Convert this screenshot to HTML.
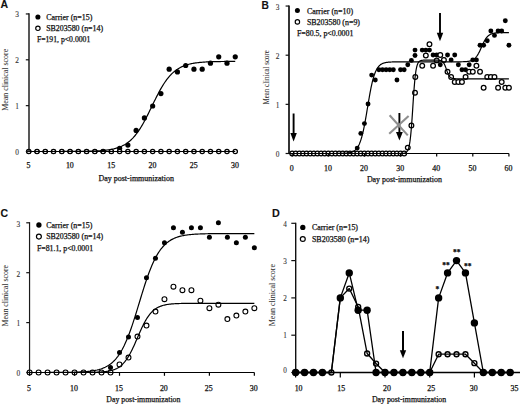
<!DOCTYPE html>
<html><head><meta charset="utf-8"><style>
html,body{margin:0;padding:0;background:#fff;}
svg{display:block;}
text{font-family:'Liberation Serif', serif;fill:#111;stroke:#111;stroke-width:0.25px;}
</style></head><body>
<svg width="520" height="404" viewBox="0 0 520 404">
<rect width="520" height="404" fill="#fff"/>
<text x="0.4" y="8.1" style="font-family:'Liberation Sans',sans-serif;font-weight:bold;stroke-width:0.1px" font-size="10.5">A</text>
<text x="17.10" y="154.80" font-size="7.4" text-anchor="middle" style="fill:#333;stroke:#333;stroke-width:0.1px">0</text>
<text x="17.10" y="108.95" font-size="7.4" text-anchor="middle" style="fill:#333;stroke:#333;stroke-width:0.1px">1</text>
<text x="17.10" y="63.10" font-size="7.4" text-anchor="middle" style="fill:#333;stroke:#333;stroke-width:0.1px">2</text>
<text x="17.10" y="17.25" font-size="7.4" text-anchor="middle" style="fill:#333;stroke:#333;stroke-width:0.1px">3</text>
<text x="28.55" y="168.20" font-size="7.9" text-anchor="middle">5</text>
<text x="69.85" y="168.20" font-size="7.9" text-anchor="middle">10</text>
<text x="111.15" y="168.20" font-size="7.9" text-anchor="middle">15</text>
<text x="152.45" y="168.20" font-size="7.9" text-anchor="middle">20</text>
<text x="193.75" y="168.20" font-size="7.9" text-anchor="middle">25</text>
<text x="235.05" y="168.20" font-size="7.9" text-anchor="middle">30</text>
<text x="98.60" y="181.40" font-size="7.9" text-anchor="start" textLength="75.3" lengthAdjust="spacingAndGlyphs">Day post-immunization</text>
<text transform="translate(8.30,79.80) rotate(-90)" x="0" y="0" font-size="7.9" text-anchor="middle" textLength="62" lengthAdjust="spacingAndGlyphs" style="fill:#333;stroke:#333;stroke-width:0.05px">Mean clinical score</text>
<circle cx="37.90" cy="17.00" r="2.55" fill="#000"/>
<text x="46.20" y="19.50" font-size="7.9" text-anchor="start" textLength="46.1" lengthAdjust="spacingAndGlyphs">Carrier (n=15)</text>
<circle cx="37.90" cy="28.30" r="2.2" fill="#fff" stroke="#000" stroke-width="1.15"/>
<text x="46.20" y="30.80" font-size="7.9" text-anchor="start" textLength="56.9" lengthAdjust="spacingAndGlyphs">SB203580 (n=14)</text>
<text x="36.90" y="42.30" font-size="7.9" text-anchor="start" textLength="53.4" lengthAdjust="spacingAndGlyphs">F=191, p&lt;0.0001</text>
<circle cx="28.75" cy="151.50" r="2.6" fill="#000"/>
<circle cx="37.01" cy="151.50" r="2.6" fill="#000"/>
<circle cx="45.27" cy="151.50" r="2.6" fill="#000"/>
<circle cx="53.53" cy="151.50" r="2.6" fill="#000"/>
<circle cx="61.79" cy="151.50" r="2.6" fill="#000"/>
<circle cx="70.05" cy="151.50" r="2.6" fill="#000"/>
<circle cx="78.31" cy="151.50" r="2.6" fill="#000"/>
<circle cx="86.57" cy="151.50" r="2.6" fill="#000"/>
<circle cx="94.83" cy="151.50" r="2.6" fill="#000"/>
<circle cx="103.09" cy="151.50" r="2.6" fill="#000"/>
<circle cx="111.35" cy="151.50" r="2.6" fill="#000"/>
<circle cx="119.61" cy="148.32" r="2.6" fill="#000"/>
<circle cx="127.87" cy="145.10" r="2.6" fill="#000"/>
<circle cx="136.13" cy="130.38" r="2.6" fill="#000"/>
<circle cx="144.39" cy="117.96" r="2.6" fill="#000"/>
<circle cx="152.65" cy="106.00" r="2.6" fill="#000"/>
<circle cx="160.91" cy="93.58" r="2.6" fill="#000"/>
<circle cx="169.17" cy="69.20" r="2.6" fill="#000"/>
<circle cx="177.43" cy="71.96" r="2.6" fill="#000"/>
<circle cx="185.69" cy="65.52" r="2.6" fill="#000"/>
<circle cx="193.95" cy="69.20" r="2.6" fill="#000"/>
<circle cx="202.21" cy="69.20" r="2.6" fill="#000"/>
<circle cx="210.47" cy="63.22" r="2.6" fill="#000"/>
<circle cx="218.73" cy="56.78" r="2.6" fill="#000"/>
<circle cx="226.99" cy="63.22" r="2.6" fill="#000"/>
<circle cx="235.25" cy="56.78" r="2.6" fill="#000"/>
<circle cx="28.75" cy="151.50" r="2.15" fill="#fff" stroke="#000" stroke-width="1.3"/>
<circle cx="37.01" cy="151.50" r="2.15" fill="#fff" stroke="#000" stroke-width="1.3"/>
<circle cx="45.27" cy="151.50" r="2.15" fill="#fff" stroke="#000" stroke-width="1.3"/>
<circle cx="53.53" cy="151.50" r="2.15" fill="#fff" stroke="#000" stroke-width="1.3"/>
<circle cx="61.79" cy="151.50" r="2.15" fill="#fff" stroke="#000" stroke-width="1.3"/>
<circle cx="70.05" cy="151.50" r="2.15" fill="#fff" stroke="#000" stroke-width="1.3"/>
<circle cx="78.31" cy="151.50" r="2.15" fill="#fff" stroke="#000" stroke-width="1.3"/>
<circle cx="86.57" cy="151.50" r="2.15" fill="#fff" stroke="#000" stroke-width="1.3"/>
<circle cx="94.83" cy="151.50" r="2.15" fill="#fff" stroke="#000" stroke-width="1.3"/>
<circle cx="103.09" cy="151.50" r="2.15" fill="#fff" stroke="#000" stroke-width="1.3"/>
<circle cx="111.35" cy="151.50" r="2.15" fill="#fff" stroke="#000" stroke-width="1.3"/>
<circle cx="119.61" cy="151.50" r="2.15" fill="#fff" stroke="#000" stroke-width="1.3"/>
<circle cx="127.87" cy="151.50" r="2.15" fill="#fff" stroke="#000" stroke-width="1.3"/>
<circle cx="136.13" cy="151.50" r="2.15" fill="#fff" stroke="#000" stroke-width="1.3"/>
<circle cx="144.39" cy="151.50" r="2.15" fill="#fff" stroke="#000" stroke-width="1.3"/>
<circle cx="152.65" cy="151.50" r="2.15" fill="#fff" stroke="#000" stroke-width="1.3"/>
<circle cx="160.91" cy="151.50" r="2.15" fill="#fff" stroke="#000" stroke-width="1.3"/>
<circle cx="169.17" cy="151.50" r="2.15" fill="#fff" stroke="#000" stroke-width="1.3"/>
<circle cx="177.43" cy="151.50" r="2.15" fill="#fff" stroke="#000" stroke-width="1.3"/>
<circle cx="185.69" cy="151.50" r="2.15" fill="#fff" stroke="#000" stroke-width="1.3"/>
<circle cx="193.95" cy="151.50" r="2.15" fill="#fff" stroke="#000" stroke-width="1.3"/>
<circle cx="202.21" cy="151.50" r="2.15" fill="#fff" stroke="#000" stroke-width="1.3"/>
<circle cx="210.47" cy="151.50" r="2.15" fill="#fff" stroke="#000" stroke-width="1.3"/>
<circle cx="218.73" cy="151.50" r="2.15" fill="#fff" stroke="#000" stroke-width="1.3"/>
<circle cx="226.99" cy="151.50" r="2.15" fill="#fff" stroke="#000" stroke-width="1.3"/>
<circle cx="235.25" cy="151.50" r="2.15" fill="#fff" stroke="#000" stroke-width="1.3"/>
<polyline points="28.75,151.50 29.58,151.50 30.40,151.50 31.23,151.50 32.05,151.50 32.88,151.50 33.71,151.50 34.53,151.50 35.36,151.50 36.18,151.50 37.01,151.50 37.84,151.50 38.66,151.50 39.49,151.50 40.31,151.50 41.14,151.50 41.97,151.50 42.79,151.50 43.62,151.50 44.44,151.50 45.27,151.49 46.10,151.49 46.92,151.49 47.75,151.49 48.57,151.49 49.40,151.49 50.23,151.49 51.05,151.49 51.88,151.49 52.70,151.49 53.53,151.49 54.36,151.49 55.18,151.49 56.01,151.49 56.83,151.49 57.66,151.48 58.49,151.48 59.31,151.48 60.14,151.48 60.96,151.48 61.79,151.48 62.62,151.47 63.44,151.47 64.27,151.47 65.09,151.47 65.92,151.47 66.75,151.46 67.57,151.46 68.40,151.46 69.22,151.45 70.05,151.45 70.88,151.45 71.70,151.44 72.53,151.44 73.35,151.43 74.18,151.43 75.01,151.42 75.83,151.42 76.66,151.41 77.48,151.40 78.31,151.39 79.14,151.39 79.96,151.38 80.79,151.37 81.61,151.36 82.44,151.34 83.27,151.33 84.09,151.32 84.92,151.31 85.74,151.29 86.57,151.27 87.40,151.26 88.22,151.24 89.05,151.22 89.87,151.19 90.70,151.17 91.53,151.14 92.35,151.12 93.18,151.09 94.00,151.05 94.83,151.02 95.66,150.98 96.48,150.94 97.31,150.90 98.13,150.85 98.96,150.80 99.79,150.74 100.61,150.69 101.44,150.62 102.26,150.55 103.09,150.48 103.92,150.40 104.74,150.31 105.57,150.22 106.39,150.12 107.22,150.02 108.05,149.90 108.87,149.78 109.70,149.65 110.52,149.50 111.35,149.35 112.18,149.19 113.00,149.01 113.83,148.82 114.65,148.61 115.48,148.40 116.31,148.16 117.13,147.91 117.96,147.64 118.78,147.35 119.61,147.04 120.44,146.70 121.26,146.35 122.09,145.97 122.91,145.56 123.74,145.13 124.57,144.66 125.39,144.17 126.22,143.64 127.04,143.08 127.87,142.48 128.70,141.85 129.52,141.18 130.35,140.46 131.17,139.71 132.00,138.91 132.83,138.07 133.65,137.18 134.48,136.24 135.30,135.26 136.13,134.23 136.96,133.14 137.78,132.01 138.61,130.83 139.43,129.60 140.26,128.32 141.09,126.99 141.91,125.61 142.74,124.19 143.56,122.73 144.39,121.23 145.22,119.68 146.04,118.11 146.87,116.50 147.69,114.86 148.52,113.21 149.35,111.53 150.17,109.84 151.00,108.14 151.82,106.43 152.65,104.72 153.48,103.02 154.30,101.33 155.13,99.65 155.95,97.99 156.78,96.36 157.61,94.75 158.43,93.17 159.26,91.63 160.08,90.13 160.91,88.67 161.74,87.25 162.56,85.87 163.39,84.54 164.21,83.26 165.04,82.03 165.87,80.85 166.69,79.72 167.52,78.63 168.34,77.60 169.17,76.62 170.00,75.68 170.82,74.79 171.65,73.95 172.47,73.15 173.30,72.39 174.13,71.68 174.95,71.01 175.78,70.38 176.60,69.78 177.43,69.22 178.26,68.69 179.08,68.20 179.91,67.73 180.73,67.30 181.56,66.89 182.39,66.51 183.21,66.16 184.04,65.82 184.86,65.51 185.69,65.22 186.52,64.95 187.34,64.70 188.17,64.46 188.99,64.24 189.82,64.04 190.65,63.85 191.47,63.67 192.30,63.51 193.12,63.35 193.95,63.21 194.78,63.08 195.60,62.96 196.43,62.84 197.25,62.74 198.08,62.64 198.91,62.54 199.73,62.46 200.56,62.38 201.38,62.31 202.21,62.24 203.04,62.17 203.86,62.11 204.69,62.06 205.51,62.01 206.34,61.96 207.17,61.92 207.99,61.88 208.82,61.84 209.64,61.81 210.47,61.77 211.30,61.74 212.12,61.71 212.95,61.69 213.77,61.66 214.60,61.64 215.43,61.62 216.25,61.60 217.08,61.59 217.90,61.57 218.73,61.55 219.56,61.54 220.38,61.53 221.21,61.51 222.03,61.50 222.86,61.49 223.69,61.48 224.51,61.47 225.34,61.47 226.16,61.46 226.99,61.45 227.82,61.44 228.64,61.44 229.47,61.43 230.29,61.43 231.12,61.42 231.95,61.42 232.77,61.41 233.60,61.41 234.42,61.41 235.25,61.40" fill="none" stroke="#000" stroke-width="1.2" stroke-linejoin="round"/>
<line x1="28.75" y1="151.50" x2="235.25" y2="151.50" stroke="#000" stroke-width="1.05"/>
<line x1="29.00" y1="13.30" x2="29.00" y2="152.10" stroke="#111" stroke-width="1.4"/>
<line x1="25.80" y1="151.50" x2="29.00" y2="151.50" stroke="#111" stroke-width="1.2"/>
<line x1="25.80" y1="105.65" x2="29.00" y2="105.65" stroke="#111" stroke-width="1.2"/>
<line x1="25.80" y1="59.80" x2="29.00" y2="59.80" stroke="#111" stroke-width="1.2"/>
<line x1="25.80" y1="13.95" x2="29.00" y2="13.95" stroke="#111" stroke-width="1.2"/>
<text x="261.5" y="8.65" style="font-family:'Liberation Sans',sans-serif;font-weight:bold;stroke-width:0.1px" font-size="10.2">B</text>
<text x="277.60" y="156.90" font-size="7.4" text-anchor="middle" style="fill:#333;stroke:#333;stroke-width:0.1px">0</text>
<text x="277.60" y="107.75" font-size="7.4" text-anchor="middle" style="fill:#333;stroke:#333;stroke-width:0.1px">1</text>
<text x="277.60" y="58.60" font-size="7.4" text-anchor="middle" style="fill:#333;stroke:#333;stroke-width:0.1px">2</text>
<text x="277.60" y="10.05" font-size="7.4" text-anchor="middle" style="fill:#333;stroke:#333;stroke-width:0.1px">3</text>
<text x="291.80" y="170.50" font-size="7.9" text-anchor="middle">0</text>
<text x="327.92" y="170.50" font-size="7.9" text-anchor="middle">10</text>
<text x="364.04" y="170.50" font-size="7.9" text-anchor="middle">20</text>
<text x="400.16" y="170.50" font-size="7.9" text-anchor="middle">30</text>
<text x="436.28" y="170.50" font-size="7.9" text-anchor="middle">40</text>
<text x="472.40" y="170.50" font-size="7.9" text-anchor="middle">50</text>
<text x="508.52" y="170.50" font-size="7.9" text-anchor="middle">60</text>
<text x="366.90" y="181.50" font-size="7.9" text-anchor="start" textLength="75.0" lengthAdjust="spacingAndGlyphs">Day post-immunization</text>
<text transform="translate(268.60,77.30) rotate(-90)" x="0" y="0" font-size="7.9" text-anchor="middle" textLength="54.5" lengthAdjust="spacingAndGlyphs" style="fill:#333;stroke:#333;stroke-width:0.05px">Mean clinical score</text>
<circle cx="297.40" cy="10.40" r="2.5" fill="#000"/>
<text x="306.90" y="13.50" font-size="7.9" text-anchor="start" textLength="46.2" lengthAdjust="spacingAndGlyphs">Carrier (n=10)</text>
<circle cx="297.40" cy="21.90" r="2.2" fill="#fff" stroke="#000" stroke-width="1.15"/>
<text x="306.90" y="24.80" font-size="7.9" text-anchor="start" textLength="53.1" lengthAdjust="spacingAndGlyphs">SB203580 (n=9)</text>
<text x="296.90" y="36.20" font-size="7.9" text-anchor="start" textLength="56.5" lengthAdjust="spacingAndGlyphs">F=80.5, p&lt;0.0001</text>
<circle cx="292.20" cy="153.50" r="2.45" fill="#000"/>
<circle cx="295.81" cy="153.50" r="2.45" fill="#000"/>
<circle cx="299.42" cy="153.50" r="2.45" fill="#000"/>
<circle cx="303.04" cy="153.50" r="2.45" fill="#000"/>
<circle cx="306.65" cy="153.50" r="2.45" fill="#000"/>
<circle cx="310.26" cy="153.50" r="2.45" fill="#000"/>
<circle cx="313.87" cy="153.50" r="2.45" fill="#000"/>
<circle cx="317.48" cy="153.50" r="2.45" fill="#000"/>
<circle cx="321.10" cy="153.50" r="2.45" fill="#000"/>
<circle cx="324.71" cy="153.50" r="2.45" fill="#000"/>
<circle cx="328.32" cy="153.50" r="2.45" fill="#000"/>
<circle cx="331.93" cy="153.50" r="2.45" fill="#000"/>
<circle cx="335.54" cy="153.50" r="2.45" fill="#000"/>
<circle cx="339.16" cy="153.50" r="2.45" fill="#000"/>
<circle cx="342.77" cy="153.50" r="2.45" fill="#000"/>
<circle cx="346.38" cy="153.50" r="2.45" fill="#000"/>
<circle cx="349.99" cy="153.50" r="2.45" fill="#000"/>
<circle cx="353.60" cy="153.50" r="2.45" fill="#000"/>
<circle cx="357.22" cy="148.10" r="2.45" fill="#000"/>
<circle cx="360.83" cy="133.40" r="2.45" fill="#000"/>
<circle cx="364.44" cy="123.60" r="2.45" fill="#000"/>
<circle cx="368.05" cy="104.00" r="2.45" fill="#000"/>
<circle cx="371.66" cy="75.09" r="2.45" fill="#000"/>
<circle cx="375.28" cy="79.99" r="2.45" fill="#000"/>
<circle cx="378.89" cy="69.70" r="2.45" fill="#000"/>
<circle cx="382.50" cy="69.70" r="2.45" fill="#000"/>
<circle cx="386.11" cy="69.70" r="2.45" fill="#000"/>
<circle cx="389.72" cy="69.70" r="2.45" fill="#000"/>
<circle cx="393.34" cy="69.70" r="2.45" fill="#000"/>
<circle cx="396.95" cy="79.99" r="2.45" fill="#000"/>
<circle cx="400.56" cy="69.70" r="2.45" fill="#000"/>
<circle cx="404.17" cy="69.70" r="2.45" fill="#000"/>
<circle cx="407.78" cy="64.80" r="2.45" fill="#000"/>
<circle cx="411.40" cy="60.39" r="2.45" fill="#000"/>
<circle cx="415.01" cy="50.10" r="2.45" fill="#000"/>
<circle cx="415.01" cy="55.49" r="2.45" fill="#000"/>
<circle cx="422.23" cy="50.10" r="2.45" fill="#000"/>
<circle cx="425.84" cy="50.10" r="2.45" fill="#000"/>
<circle cx="429.46" cy="50.10" r="2.45" fill="#000"/>
<circle cx="433.07" cy="55.00" r="2.45" fill="#000"/>
<circle cx="436.68" cy="55.00" r="2.45" fill="#000"/>
<circle cx="440.29" cy="64.80" r="2.45" fill="#000"/>
<circle cx="443.90" cy="59.90" r="2.45" fill="#000"/>
<circle cx="447.52" cy="55.00" r="2.45" fill="#000"/>
<circle cx="451.13" cy="59.90" r="2.45" fill="#000"/>
<circle cx="454.74" cy="55.00" r="2.45" fill="#000"/>
<circle cx="458.35" cy="64.80" r="2.45" fill="#000"/>
<circle cx="461.96" cy="69.70" r="2.45" fill="#000"/>
<circle cx="465.58" cy="69.70" r="2.45" fill="#000"/>
<circle cx="469.19" cy="64.80" r="2.45" fill="#000"/>
<circle cx="472.80" cy="59.90" r="2.45" fill="#000"/>
<circle cx="476.41" cy="59.90" r="2.45" fill="#000"/>
<circle cx="480.02" cy="45.20" r="2.45" fill="#000"/>
<circle cx="483.64" cy="45.20" r="2.45" fill="#000"/>
<circle cx="487.25" cy="40.79" r="2.45" fill="#000"/>
<circle cx="490.86" cy="30.99" r="2.45" fill="#000"/>
<circle cx="494.47" cy="35.40" r="2.45" fill="#000"/>
<circle cx="498.08" cy="30.99" r="2.45" fill="#000"/>
<circle cx="501.70" cy="30.99" r="2.45" fill="#000"/>
<circle cx="505.31" cy="20.70" r="2.45" fill="#000"/>
<circle cx="508.92" cy="45.20" r="2.45" fill="#000"/>
<circle cx="292.20" cy="153.50" r="2.35" fill="#fff" stroke="#000" stroke-width="1.25"/>
<circle cx="295.81" cy="153.50" r="2.35" fill="#fff" stroke="#000" stroke-width="1.25"/>
<circle cx="299.42" cy="153.50" r="2.35" fill="#fff" stroke="#000" stroke-width="1.25"/>
<circle cx="303.04" cy="153.50" r="2.35" fill="#fff" stroke="#000" stroke-width="1.25"/>
<circle cx="306.65" cy="153.50" r="2.35" fill="#fff" stroke="#000" stroke-width="1.25"/>
<circle cx="310.26" cy="153.50" r="2.35" fill="#fff" stroke="#000" stroke-width="1.25"/>
<circle cx="313.87" cy="153.50" r="2.35" fill="#fff" stroke="#000" stroke-width="1.25"/>
<circle cx="317.48" cy="153.50" r="2.35" fill="#fff" stroke="#000" stroke-width="1.25"/>
<circle cx="321.10" cy="153.50" r="2.35" fill="#fff" stroke="#000" stroke-width="1.25"/>
<circle cx="324.71" cy="153.50" r="2.35" fill="#fff" stroke="#000" stroke-width="1.25"/>
<circle cx="328.32" cy="153.50" r="2.35" fill="#fff" stroke="#000" stroke-width="1.25"/>
<circle cx="331.93" cy="153.50" r="2.35" fill="#fff" stroke="#000" stroke-width="1.25"/>
<circle cx="335.54" cy="153.50" r="2.35" fill="#fff" stroke="#000" stroke-width="1.25"/>
<circle cx="339.16" cy="153.50" r="2.35" fill="#fff" stroke="#000" stroke-width="1.25"/>
<circle cx="342.77" cy="153.50" r="2.35" fill="#fff" stroke="#000" stroke-width="1.25"/>
<circle cx="346.38" cy="153.50" r="2.35" fill="#fff" stroke="#000" stroke-width="1.25"/>
<circle cx="349.99" cy="153.50" r="2.35" fill="#fff" stroke="#000" stroke-width="1.25"/>
<circle cx="353.60" cy="153.50" r="2.35" fill="#fff" stroke="#000" stroke-width="1.25"/>
<circle cx="357.22" cy="153.50" r="2.35" fill="#fff" stroke="#000" stroke-width="1.25"/>
<circle cx="360.83" cy="153.50" r="2.35" fill="#fff" stroke="#000" stroke-width="1.25"/>
<circle cx="364.44" cy="153.50" r="2.35" fill="#fff" stroke="#000" stroke-width="1.25"/>
<circle cx="368.05" cy="153.50" r="2.35" fill="#fff" stroke="#000" stroke-width="1.25"/>
<circle cx="371.66" cy="153.50" r="2.35" fill="#fff" stroke="#000" stroke-width="1.25"/>
<circle cx="375.28" cy="153.50" r="2.35" fill="#fff" stroke="#000" stroke-width="1.25"/>
<circle cx="378.89" cy="153.50" r="2.35" fill="#fff" stroke="#000" stroke-width="1.25"/>
<circle cx="382.50" cy="153.50" r="2.35" fill="#fff" stroke="#000" stroke-width="1.25"/>
<circle cx="386.11" cy="153.50" r="2.35" fill="#fff" stroke="#000" stroke-width="1.25"/>
<circle cx="389.72" cy="153.50" r="2.35" fill="#fff" stroke="#000" stroke-width="1.25"/>
<circle cx="393.34" cy="153.50" r="2.35" fill="#fff" stroke="#000" stroke-width="1.25"/>
<circle cx="396.95" cy="153.50" r="2.35" fill="#fff" stroke="#000" stroke-width="1.25"/>
<circle cx="400.56" cy="153.50" r="2.35" fill="#fff" stroke="#000" stroke-width="1.25"/>
<circle cx="404.17" cy="153.50" r="2.35" fill="#fff" stroke="#000" stroke-width="1.25"/>
<circle cx="407.78" cy="147.61" r="2.35" fill="#fff" stroke="#000" stroke-width="1.25"/>
<circle cx="411.40" cy="125.56" r="2.35" fill="#fff" stroke="#000" stroke-width="1.25"/>
<circle cx="415.01" cy="92.73" r="2.35" fill="#fff" stroke="#000" stroke-width="1.25"/>
<circle cx="415.31" cy="77.05" r="2.35" fill="#fff" stroke="#000" stroke-width="1.25"/>
<circle cx="422.23" cy="65.78" r="2.35" fill="#fff" stroke="#000" stroke-width="1.25"/>
<circle cx="425.84" cy="55.49" r="2.35" fill="#fff" stroke="#000" stroke-width="1.25"/>
<circle cx="429.46" cy="44.22" r="2.35" fill="#fff" stroke="#000" stroke-width="1.25"/>
<circle cx="433.07" cy="65.78" r="2.35" fill="#fff" stroke="#000" stroke-width="1.25"/>
<circle cx="436.68" cy="60.39" r="2.35" fill="#fff" stroke="#000" stroke-width="1.25"/>
<circle cx="440.29" cy="55.00" r="2.35" fill="#fff" stroke="#000" stroke-width="1.25"/>
<circle cx="443.90" cy="59.90" r="2.35" fill="#fff" stroke="#000" stroke-width="1.25"/>
<circle cx="447.52" cy="71.66" r="2.35" fill="#fff" stroke="#000" stroke-width="1.25"/>
<circle cx="451.13" cy="77.05" r="2.35" fill="#fff" stroke="#000" stroke-width="1.25"/>
<circle cx="454.74" cy="81.95" r="2.35" fill="#fff" stroke="#000" stroke-width="1.25"/>
<circle cx="458.35" cy="81.95" r="2.35" fill="#fff" stroke="#000" stroke-width="1.25"/>
<circle cx="461.96" cy="81.95" r="2.35" fill="#fff" stroke="#000" stroke-width="1.25"/>
<circle cx="465.58" cy="77.05" r="2.35" fill="#fff" stroke="#000" stroke-width="1.25"/>
<circle cx="469.19" cy="71.66" r="2.35" fill="#fff" stroke="#000" stroke-width="1.25"/>
<circle cx="472.80" cy="71.66" r="2.35" fill="#fff" stroke="#000" stroke-width="1.25"/>
<circle cx="476.41" cy="65.78" r="2.35" fill="#fff" stroke="#000" stroke-width="1.25"/>
<circle cx="480.02" cy="71.66" r="2.35" fill="#fff" stroke="#000" stroke-width="1.25"/>
<circle cx="483.64" cy="87.83" r="2.35" fill="#fff" stroke="#000" stroke-width="1.25"/>
<circle cx="487.25" cy="77.05" r="2.35" fill="#fff" stroke="#000" stroke-width="1.25"/>
<circle cx="490.86" cy="77.05" r="2.35" fill="#fff" stroke="#000" stroke-width="1.25"/>
<circle cx="494.47" cy="77.05" r="2.35" fill="#fff" stroke="#000" stroke-width="1.25"/>
<circle cx="498.08" cy="87.83" r="2.35" fill="#fff" stroke="#000" stroke-width="1.25"/>
<circle cx="501.70" cy="81.95" r="2.35" fill="#fff" stroke="#000" stroke-width="1.25"/>
<circle cx="505.31" cy="87.83" r="2.35" fill="#fff" stroke="#000" stroke-width="1.25"/>
<circle cx="508.92" cy="87.83" r="2.35" fill="#fff" stroke="#000" stroke-width="1.25"/>
<polyline points="292.20,153.50 292.56,153.50 292.92,153.50 293.28,153.50 293.64,153.50 294.01,153.50 294.37,153.50 294.73,153.50 295.09,153.50 295.45,153.50 295.81,153.50 296.17,153.50 296.53,153.50 296.90,153.50 297.26,153.50 297.62,153.50 297.98,153.50 298.34,153.50 298.70,153.50 299.06,153.50 299.42,153.50 299.79,153.50 300.15,153.50 300.51,153.50 300.87,153.50 301.23,153.50 301.59,153.50 301.95,153.50 302.31,153.50 302.67,153.50 303.04,153.50 303.40,153.50 303.76,153.50 304.12,153.50 304.48,153.50 304.84,153.50 305.20,153.50 305.56,153.50 305.93,153.50 306.29,153.50 306.65,153.50 307.01,153.50 307.37,153.50 307.73,153.50 308.09,153.50 308.45,153.50 308.82,153.50 309.18,153.50 309.54,153.50 309.90,153.50 310.26,153.50 310.62,153.50 310.98,153.50 311.34,153.50 311.70,153.50 312.07,153.50 312.43,153.50 312.79,153.50 313.15,153.50 313.51,153.50 313.87,153.50 314.23,153.50 314.59,153.50 314.96,153.50 315.32,153.50 315.68,153.50 316.04,153.50 316.40,153.50 316.76,153.50 317.12,153.50 317.48,153.50 317.85,153.50 318.21,153.50 318.57,153.50 318.93,153.50 319.29,153.50 319.65,153.50 320.01,153.50 320.37,153.50 320.73,153.50 321.10,153.50 321.46,153.50 321.82,153.50 322.18,153.50 322.54,153.50 322.90,153.50 323.26,153.50 323.62,153.50 323.99,153.50 324.35,153.50 324.71,153.50 325.07,153.50 325.43,153.50 325.79,153.50 326.15,153.50 326.51,153.50 326.88,153.50 327.24,153.50 327.60,153.50 327.96,153.50 328.32,153.50 328.68,153.50 329.04,153.50 329.40,153.50 329.76,153.50 330.13,153.50 330.49,153.49 330.85,153.49 331.21,153.49 331.57,153.49 331.93,153.49 332.29,153.49 332.65,153.49 333.02,153.49 333.38,153.49 333.74,153.49 334.10,153.49 334.46,153.48 334.82,153.48 335.18,153.48 335.54,153.48 335.91,153.48 336.27,153.48 336.63,153.47 336.99,153.47 337.35,153.47 337.71,153.46 338.07,153.46 338.43,153.46 338.79,153.45 339.16,153.45 339.52,153.44 339.88,153.44 340.24,153.43 340.60,153.42 340.96,153.42 341.32,153.41 341.68,153.40 342.05,153.39 342.41,153.38 342.77,153.37 343.13,153.35 343.49,153.34 343.85,153.32 344.21,153.30 344.57,153.28 344.94,153.26 345.30,153.24 345.66,153.21 346.02,153.18 346.38,153.15 346.74,153.12 347.10,153.08 347.46,153.04 347.82,152.99 348.19,152.94 348.55,152.89 348.91,152.83 349.27,152.76 349.63,152.69 349.99,152.60 350.35,152.52 350.71,152.42 351.08,152.31 351.44,152.20 351.80,152.07 352.16,151.93 352.52,151.77 352.88,151.60 353.24,151.42 353.60,151.22 353.97,150.99 354.33,150.75 354.69,150.48 355.05,150.19 355.41,149.88 355.77,149.53 356.13,149.15 356.49,148.74 356.85,148.29 357.22,147.80 357.58,147.27 357.94,146.70 358.30,146.07 358.66,145.40 359.02,144.67 359.38,143.88 359.74,143.02 360.11,142.11 360.47,141.12 360.83,140.07 361.19,138.94 361.55,137.73 361.91,136.45 362.27,135.09 362.63,133.65 363.00,132.13 363.36,130.53 363.72,128.85 364.08,127.09 364.44,125.27 364.80,123.37 365.16,121.42 365.52,119.40 365.88,117.34 366.25,115.24 366.61,113.10 366.97,110.94 367.33,108.76 367.69,106.58 368.05,104.40 368.41,102.24 368.77,100.10 369.14,97.99 369.50,95.93 369.86,93.92 370.22,91.96 370.58,90.07 370.94,88.24 371.30,86.49 371.66,84.81 372.03,83.21 372.39,81.69 372.75,80.25 373.11,78.89 373.47,77.60 373.83,76.40 374.19,75.27 374.55,74.21 374.91,73.23 375.28,72.31 375.64,71.46 376.00,70.67 376.36,69.94 376.72,69.26 377.08,68.64 377.44,68.06 377.80,67.53 378.17,67.04 378.53,66.59 378.89,66.18 379.25,65.80 379.61,65.46 379.97,65.14 380.33,64.85 380.69,64.58 381.06,64.34 381.42,64.12 381.78,63.92 382.14,63.73 382.50,63.56 382.86,63.41 383.22,63.27 383.58,63.14 383.94,63.02 384.31,62.92 384.67,62.82 385.03,62.73 385.39,62.65 385.75,62.58 386.11,62.51 386.47,62.45 386.83,62.39 387.20,62.34 387.56,62.30 387.92,62.26 388.28,62.22 388.64,62.18 389.00,62.15 389.36,62.12 389.72,62.10 390.09,62.07 390.45,62.05 390.81,62.03 391.17,62.01 391.53,62.00 391.89,61.98 392.25,61.97 392.61,61.96 392.97,61.95 393.34,61.94 393.70,61.93 394.06,61.92 394.42,61.91 394.78,61.90 395.14,61.90 395.50,61.89 395.86,61.89 396.23,61.88 396.59,61.88 396.95,61.87 397.31,61.87 397.67,61.87 398.03,61.86 398.39,61.86 398.75,61.86 399.12,61.86 399.48,61.86 399.84,61.85 400.20,61.85 400.56,61.85 400.92,61.85 401.28,61.85 401.64,61.85 402.00,61.85 402.37,61.84 402.73,61.84 403.09,61.84 403.45,61.84 403.81,61.84 404.17,61.84 404.53,61.84 404.89,61.84 405.26,61.84 405.62,61.84 405.98,61.84 406.34,61.84 406.70,61.84 407.06,61.84 407.42,61.84 407.78,61.84 408.15,61.84 408.51,61.84 408.87,61.84 409.23,61.84 409.59,61.84 409.95,61.84 410.31,61.84 410.67,61.84 411.03,61.84 411.40,61.84 411.76,61.84 412.12,61.84 412.48,61.84 412.84,61.84 413.20,61.84 413.56,61.84 413.92,61.84 414.29,61.84 414.65,61.84 415.01,61.84 415.37,61.84 415.73,61.84 416.09,61.84 416.45,61.84 416.81,61.84 417.18,61.84 417.54,61.84 417.90,61.84 418.26,61.84 418.62,61.84 418.98,61.84 419.34,61.84 419.70,61.84 420.06,61.84 420.43,61.84 420.79,61.84 421.15,61.84 421.51,61.84 421.87,61.84 422.23,61.84 422.59,61.84 422.95,61.84 423.32,61.84 423.68,61.84 424.04,61.84 424.40,61.84 424.76,61.84 425.12,61.84 425.48,61.84 425.84,61.84 426.21,61.84 426.57,61.84 426.93,61.84 427.29,61.84 427.65,61.84 428.01,61.84 428.37,61.84 428.73,61.84 429.09,61.84 429.46,61.84 429.82,61.84 430.18,61.84 430.54,61.84 430.90,61.84 431.26,61.84 431.62,61.84 431.98,61.84 432.35,61.84 432.71,61.84 433.07,61.84 433.43,61.84 433.79,61.84 434.15,61.84 434.51,61.84 434.87,61.84 435.24,61.84 435.60,61.84 435.96,61.84 436.32,61.84 436.68,61.84 437.04,61.84 437.40,61.84 437.76,61.84 438.12,61.84 438.49,61.84 438.85,61.84 439.21,61.84 439.57,61.84 439.93,61.84 440.29,61.84 440.65,61.84 441.01,61.84 441.38,61.84 441.74,61.84 442.10,61.84 442.46,61.84 442.82,61.84 443.18,61.84 443.54,61.83 443.90,61.83 444.27,61.83 444.63,61.83 444.99,61.83 445.35,61.83 445.71,61.83 446.07,61.83 446.43,61.83 446.79,61.83 447.15,61.83 447.52,61.83 447.88,61.83 448.24,61.83 448.60,61.83 448.96,61.83 449.32,61.83 449.68,61.83 450.04,61.83 450.41,61.83 450.77,61.83 451.13,61.83 451.49,61.83 451.85,61.83 452.21,61.83 452.57,61.83 452.93,61.83 453.30,61.83 453.66,61.83 454.02,61.83 454.38,61.83 454.74,61.83 455.10,61.83 455.46,61.83 455.82,61.82 456.18,61.82 456.55,61.82 456.91,61.82 457.27,61.82 457.63,61.82 457.99,61.81 458.35,61.81 458.71,61.81 459.07,61.81 459.44,61.80 459.80,61.80 460.16,61.79 460.52,61.79 460.88,61.78 461.24,61.78 461.60,61.77 461.96,61.76 462.33,61.75 462.69,61.75 463.05,61.73 463.41,61.72 463.77,61.71 464.13,61.69 464.49,61.68 464.85,61.66 465.21,61.64 465.58,61.62 465.94,61.59 466.30,61.56 466.66,61.53 467.02,61.50 467.38,61.46 467.74,61.41 468.10,61.36 468.47,61.31 468.83,61.25 469.19,61.18 469.55,61.11 469.91,61.02 470.27,60.93 470.63,60.83 470.99,60.71 471.36,60.59 471.72,60.45 472.08,60.29 472.44,60.12 472.80,59.94 473.16,59.73 473.52,59.50 473.88,59.25 474.24,58.98 474.61,58.68 474.97,58.35 475.33,57.99 475.69,57.61 476.05,57.19 476.41,56.74 476.77,56.25 477.13,55.73 477.50,55.18 477.86,54.59 478.22,53.97 478.58,53.32 478.94,52.63 479.30,51.91 479.66,51.17 480.02,50.41 480.39,49.63 480.75,48.83 481.11,48.02 481.47,47.21 481.83,46.40 482.19,45.60 482.55,44.80 482.91,44.02 483.27,43.25 483.64,42.51 484.00,41.80 484.36,41.11 484.72,40.46 485.08,39.83 485.44,39.25 485.80,38.69 486.16,38.17 486.53,37.69 486.89,37.24 487.25,36.82 487.61,36.43 487.97,36.08 488.33,35.75 488.69,35.45 489.05,35.18 489.42,34.93 489.78,34.70 490.14,34.49 490.50,34.30 490.86,34.13 491.22,33.98 491.58,33.84 491.94,33.71 492.30,33.60 492.67,33.50 493.03,33.40 493.39,33.32 493.75,33.24 494.11,33.18 494.47,33.12 494.83,33.06 495.19,33.01 495.56,32.97 495.92,32.93 496.28,32.90 496.64,32.86 497.00,32.84 497.36,32.81 497.72,32.79 498.08,32.77 498.45,32.75 498.81,32.73 499.17,32.72 499.53,32.70 499.89,32.69 500.25,32.68 500.61,32.67 500.97,32.66 501.33,32.66 501.70,32.65 502.06,32.64 502.42,32.64 502.78,32.63 503.14,32.63 503.50,32.62 503.86,32.62 504.22,32.62 504.59,32.61 504.95,32.61 505.31,32.61 505.67,32.61 506.03,32.61 506.39,32.60 506.75,32.60 507.11,32.60 507.48,32.60 507.84,32.60 508.20,32.60 508.56,32.60 508.92,32.60" fill="none" stroke="#000" stroke-width="1.2" stroke-linejoin="round"/>
<polyline points="292.20,153.50 292.56,153.50 292.92,153.50 293.28,153.50 293.64,153.50 294.01,153.50 294.37,153.50 294.73,153.50 295.09,153.50 295.45,153.50 295.81,153.50 296.17,153.50 296.53,153.50 296.90,153.50 297.26,153.50 297.62,153.50 297.98,153.50 298.34,153.50 298.70,153.50 299.06,153.50 299.42,153.50 299.79,153.50 300.15,153.50 300.51,153.50 300.87,153.50 301.23,153.50 301.59,153.50 301.95,153.50 302.31,153.50 302.67,153.50 303.04,153.50 303.40,153.50 303.76,153.50 304.12,153.50 304.48,153.50 304.84,153.50 305.20,153.50 305.56,153.50 305.93,153.50 306.29,153.50 306.65,153.50 307.01,153.50 307.37,153.50 307.73,153.50 308.09,153.50 308.45,153.50 308.82,153.50 309.18,153.50 309.54,153.50 309.90,153.50 310.26,153.50 310.62,153.50 310.98,153.50 311.34,153.50 311.70,153.50 312.07,153.50 312.43,153.50 312.79,153.50 313.15,153.50 313.51,153.50 313.87,153.50 314.23,153.50 314.59,153.50 314.96,153.50 315.32,153.50 315.68,153.50 316.04,153.50 316.40,153.50 316.76,153.50 317.12,153.50 317.48,153.50 317.85,153.50 318.21,153.50 318.57,153.50 318.93,153.50 319.29,153.50 319.65,153.50 320.01,153.50 320.37,153.50 320.73,153.50 321.10,153.50 321.46,153.50 321.82,153.50 322.18,153.50 322.54,153.50 322.90,153.50 323.26,153.50 323.62,153.50 323.99,153.50 324.35,153.50 324.71,153.50 325.07,153.50 325.43,153.50 325.79,153.50 326.15,153.50 326.51,153.50 326.88,153.50 327.24,153.50 327.60,153.50 327.96,153.50 328.32,153.50 328.68,153.50 329.04,153.50 329.40,153.50 329.76,153.50 330.13,153.50 330.49,153.50 330.85,153.50 331.21,153.50 331.57,153.50 331.93,153.50 332.29,153.50 332.65,153.50 333.02,153.50 333.38,153.50 333.74,153.50 334.10,153.50 334.46,153.50 334.82,153.50 335.18,153.50 335.54,153.50 335.91,153.50 336.27,153.50 336.63,153.50 336.99,153.50 337.35,153.50 337.71,153.50 338.07,153.50 338.43,153.50 338.79,153.50 339.16,153.50 339.52,153.50 339.88,153.50 340.24,153.50 340.60,153.50 340.96,153.50 341.32,153.50 341.68,153.50 342.05,153.50 342.41,153.50 342.77,153.50 343.13,153.50 343.49,153.50 343.85,153.50 344.21,153.50 344.57,153.50 344.94,153.50 345.30,153.50 345.66,153.50 346.02,153.50 346.38,153.50 346.74,153.50 347.10,153.50 347.46,153.50 347.82,153.50 348.19,153.50 348.55,153.50 348.91,153.50 349.27,153.50 349.63,153.50 349.99,153.50 350.35,153.50 350.71,153.50 351.08,153.50 351.44,153.50 351.80,153.50 352.16,153.50 352.52,153.50 352.88,153.50 353.24,153.50 353.60,153.50 353.97,153.50 354.33,153.50 354.69,153.50 355.05,153.50 355.41,153.50 355.77,153.50 356.13,153.50 356.49,153.50 356.85,153.50 357.22,153.50 357.58,153.50 357.94,153.50 358.30,153.50 358.66,153.50 359.02,153.50 359.38,153.50 359.74,153.50 360.11,153.50 360.47,153.50 360.83,153.50 361.19,153.50 361.55,153.50 361.91,153.50 362.27,153.50 362.63,153.50 363.00,153.50 363.36,153.50 363.72,153.50 364.08,153.50 364.44,153.50 364.80,153.50 365.16,153.50 365.52,153.50 365.88,153.50 366.25,153.50 366.61,153.50 366.97,153.50 367.33,153.50 367.69,153.50 368.05,153.50 368.41,153.50 368.77,153.50 369.14,153.50 369.50,153.50 369.86,153.50 370.22,153.50 370.58,153.50 370.94,153.50 371.30,153.50 371.66,153.50 372.03,153.50 372.39,153.50 372.75,153.50 373.11,153.50 373.47,153.50 373.83,153.50 374.19,153.50 374.55,153.50 374.91,153.50 375.28,153.50 375.64,153.50 376.00,153.50 376.36,153.50 376.72,153.50 377.08,153.50 377.44,153.50 377.80,153.50 378.17,153.50 378.53,153.50 378.89,153.50 379.25,153.50 379.61,153.50 379.97,153.50 380.33,153.50 380.69,153.50 381.06,153.50 381.42,153.50 381.78,153.50 382.14,153.50 382.50,153.50 382.86,153.50 383.22,153.50 383.58,153.50 383.94,153.50 384.31,153.50 384.67,153.50 385.03,153.50 385.39,153.50 385.75,153.50 386.11,153.50 386.47,153.50 386.83,153.50 387.20,153.50 387.56,153.50 387.92,153.50 388.28,153.50 388.64,153.50 389.00,153.50 389.36,153.50 389.72,153.50 390.09,153.50 390.45,153.50 390.81,153.50 391.17,153.50 391.53,153.50 391.89,153.50 392.25,153.50 392.61,153.50 392.97,153.50 393.34,153.50 393.70,153.50 394.06,153.50 394.42,153.50 394.78,153.50 395.14,153.50 395.50,153.50 395.86,153.50 396.23,153.50 396.59,153.50 396.95,153.50 397.31,153.50 397.67,153.50 398.03,153.49 398.39,153.49 398.75,153.49 399.12,153.49 399.48,153.49 399.84,153.48 400.20,153.48 400.56,153.47 400.92,153.46 401.28,153.45 401.64,153.44 402.00,153.43 402.37,153.41 402.73,153.38 403.09,153.35 403.45,153.31 403.81,153.26 404.17,153.19 404.53,153.11 404.89,153.01 405.26,152.87 405.62,152.71 405.98,152.50 406.34,152.23 406.70,151.90 407.06,151.48 407.42,150.95 407.78,150.28 408.15,149.46 408.51,148.43 408.87,147.16 409.23,145.60 409.59,143.69 409.95,141.40 410.31,138.66 410.67,135.45 411.03,131.73 411.40,127.50 411.76,122.81 412.12,117.72 412.48,112.34 412.84,106.81 413.20,101.27 413.56,95.90 413.92,90.81 414.29,86.11 414.65,81.89 415.01,78.17 415.37,74.95 415.73,72.21 416.09,69.92 416.45,68.02 416.81,66.46 417.18,65.19 417.54,64.16 417.90,63.33 418.26,62.67 418.62,62.14 418.98,61.72 419.34,61.38 419.70,61.12 420.06,60.91 420.43,60.74 420.79,60.61 421.15,60.50 421.51,60.42 421.87,60.36 422.23,60.31 422.59,60.27 422.95,60.23 423.32,60.21 423.68,60.19 424.04,60.17 424.40,60.16 424.76,60.15 425.12,60.14 425.48,60.14 425.84,60.13 426.21,60.13 426.57,60.13 426.93,60.12 427.29,60.12 427.65,60.12 428.01,60.12 428.37,60.12 428.73,60.12 429.09,60.12 429.46,60.12 429.82,60.12 430.18,60.12 430.54,60.12 430.90,60.12 431.26,60.12 431.62,60.12 431.98,60.12 432.35,60.12 432.71,60.12 433.07,60.12 433.43,60.12 433.79,60.12 434.15,60.12 434.51,60.13 434.87,60.13 435.24,60.13 435.60,60.14 435.96,60.14 436.32,60.15 436.68,60.16 437.04,60.17 437.40,60.19 437.76,60.20 438.12,60.23 438.49,60.25 438.85,60.29 439.21,60.33 439.57,60.38 439.93,60.45 440.29,60.53 440.65,60.63 441.01,60.76 441.38,60.91 441.74,61.10 442.10,61.33 442.46,61.61 442.82,61.94 443.18,62.34 443.54,62.82 443.90,63.37 444.27,64.01 444.63,64.74 444.99,65.56 445.35,66.45 445.71,67.41 446.07,68.42 446.43,69.45 446.79,70.49 447.15,71.50 447.52,72.46 447.88,73.35 448.24,74.17 448.60,74.90 448.96,75.54 449.32,76.09 449.68,76.57 450.04,76.97 450.41,77.30 450.77,77.58 451.13,77.81 451.49,78.00 451.85,78.15 452.21,78.27 452.57,78.37 452.93,78.46 453.30,78.52 453.66,78.58 454.02,78.62 454.38,78.65 454.74,78.68 455.10,78.70 455.46,78.72 455.82,78.73 456.18,78.75 456.55,78.76 456.91,78.76 457.27,78.77 457.63,78.77 457.99,78.78 458.35,78.78 458.71,78.78 459.07,78.78 459.44,78.79 459.80,78.79 460.16,78.79 460.52,78.79 460.88,78.79 461.24,78.79 461.60,78.79 461.96,78.79 462.33,78.79 462.69,78.79 463.05,78.79 463.41,78.79 463.77,78.79 464.13,78.79 464.49,78.79 464.85,78.79 465.21,78.79 465.58,78.79 465.94,78.79 466.30,78.79 466.66,78.79 467.02,78.79 467.38,78.79 467.74,78.79 468.10,78.79 468.47,78.79 468.83,78.79 469.19,78.79 469.55,78.79 469.91,78.79 470.27,78.79 470.63,78.79 470.99,78.79 471.36,78.79 471.72,78.79 472.08,78.79 472.44,78.79 472.80,78.79 473.16,78.79 473.52,78.79 473.88,78.79 474.24,78.79 474.61,78.79 474.97,78.79 475.33,78.79 475.69,78.79 476.05,78.79 476.41,78.79 476.77,78.79 477.13,78.79 477.50,78.79 477.86,78.79 478.22,78.79 478.58,78.79 478.94,78.79 479.30,78.79 479.66,78.79 480.02,78.79 480.39,78.79 480.75,78.79 481.11,78.79 481.47,78.79 481.83,78.79 482.19,78.79 482.55,78.79 482.91,78.79 483.27,78.79 483.64,78.79 484.00,78.79 484.36,78.79 484.72,78.79 485.08,78.79 485.44,78.79 485.80,78.79 486.16,78.79 486.53,78.79 486.89,78.79 487.25,78.79 487.61,78.79 487.97,78.79 488.33,78.79 488.69,78.79 489.05,78.79 489.42,78.79 489.78,78.79 490.14,78.79 490.50,78.79 490.86,78.79 491.22,78.79 491.58,78.79 491.94,78.79 492.30,78.79 492.67,78.79 493.03,78.79 493.39,78.79 493.75,78.79 494.11,78.79 494.47,78.79 494.83,78.79 495.19,78.79 495.56,78.79 495.92,78.79 496.28,78.79 496.64,78.79 497.00,78.79 497.36,78.79 497.72,78.79 498.08,78.79 498.45,78.79 498.81,78.79 499.17,78.79 499.53,78.79 499.89,78.79 500.25,78.79 500.61,78.79 500.97,78.79 501.33,78.79 501.70,78.79 502.06,78.79 502.42,78.79 502.78,78.79 503.14,78.79 503.50,78.79 503.86,78.79 504.22,78.79 504.59,78.79 504.95,78.79 505.31,78.79 505.67,78.79 506.03,78.79 506.39,78.79 506.75,78.79 507.11,78.79 507.48,78.79 507.84,78.79 508.20,78.79 508.56,78.79 508.92,78.79" fill="none" stroke="#000" stroke-width="1.2" stroke-linejoin="round"/>
<line x1="289.00" y1="5.40" x2="289.00" y2="154.10" stroke="#111" stroke-width="1.7"/>
<line x1="285.60" y1="153.50" x2="289.00" y2="153.50" stroke="#111" stroke-width="1.2"/>
<line x1="285.60" y1="104.35" x2="289.00" y2="104.35" stroke="#111" stroke-width="1.2"/>
<line x1="285.60" y1="55.20" x2="289.00" y2="55.20" stroke="#111" stroke-width="1.2"/>
<line x1="285.60" y1="6.05" x2="289.00" y2="6.05" stroke="#111" stroke-width="1.2"/>
<line x1="289.00" y1="153.50" x2="508.92" y2="153.50" stroke="#000" stroke-width="1.2"/>
<line x1="292.20" y1="153.50" x2="292.20" y2="156.60" stroke="#000" stroke-width="1.2"/>
<line x1="328.32" y1="153.50" x2="328.32" y2="156.60" stroke="#000" stroke-width="1.2"/>
<line x1="364.44" y1="153.50" x2="364.44" y2="156.60" stroke="#000" stroke-width="1.2"/>
<line x1="400.56" y1="153.50" x2="400.56" y2="156.60" stroke="#000" stroke-width="1.2"/>
<line x1="436.68" y1="153.50" x2="436.68" y2="156.60" stroke="#000" stroke-width="1.2"/>
<line x1="472.80" y1="153.50" x2="472.80" y2="156.60" stroke="#000" stroke-width="1.2"/>
<line x1="508.92" y1="153.50" x2="508.92" y2="156.60" stroke="#000" stroke-width="1.2"/>
<line x1="293.60" y1="113.50" x2="293.60" y2="134.10" stroke="#000" stroke-width="1.9"/>
<path d="M290.40,133.10 L296.80,133.10 L293.60,141.60 Z" fill="#000"/>
<line x1="399.40" y1="113.00" x2="399.40" y2="133.10" stroke="#000" stroke-width="1.9"/>
<path d="M396.00,132.10 L402.80,132.10 L399.40,140.60 Z" fill="#000"/>
<line x1="440.00" y1="13.00" x2="440.00" y2="33.70" stroke="#000" stroke-width="1.9"/>
<path d="M436.80,32.70 L443.20,32.70 L440.00,41.20 Z" fill="#000"/>
<line x1="389.60" y1="115.20" x2="407.80" y2="135.40" stroke="#8f8f8f" stroke-width="2.1"/>
<line x1="408.60" y1="116.00" x2="389.20" y2="133.80" stroke="#8f8f8f" stroke-width="2.1"/>
<text x="0.4" y="216.9" style="font-family:'Liberation Sans',sans-serif;font-weight:bold;stroke-width:0.1px" font-size="10.5">C</text>
<text x="18.40" y="376.30" font-size="7.4" text-anchor="middle" style="fill:#333;stroke:#333;stroke-width:0.1px">0</text>
<text x="18.40" y="326.40" font-size="7.4" text-anchor="middle" style="fill:#333;stroke:#333;stroke-width:0.1px">1</text>
<text x="18.40" y="276.50" font-size="7.4" text-anchor="middle" style="fill:#333;stroke:#333;stroke-width:0.1px">2</text>
<text x="18.40" y="226.60" font-size="7.4" text-anchor="middle" style="fill:#333;stroke:#333;stroke-width:0.1px">3</text>
<text x="29.00" y="390.80" font-size="7.9" text-anchor="middle">5</text>
<text x="73.95" y="390.80" font-size="7.9" text-anchor="middle">10</text>
<text x="118.90" y="390.80" font-size="7.9" text-anchor="middle">15</text>
<text x="163.85" y="390.80" font-size="7.9" text-anchor="middle">20</text>
<text x="208.80" y="390.80" font-size="7.9" text-anchor="middle">25</text>
<text x="253.75" y="390.80" font-size="7.9" text-anchor="middle">30</text>
<text x="106.30" y="402.00" font-size="7.9" text-anchor="start" textLength="74.1" lengthAdjust="spacingAndGlyphs">Day post-immunization</text>
<text transform="translate(8.00,295.80) rotate(-90)" x="0" y="0" font-size="7.9" text-anchor="middle" textLength="61.6" lengthAdjust="spacingAndGlyphs" style="fill:#333;stroke:#333;stroke-width:0.05px">Mean clinical score</text>
<circle cx="38.90" cy="225.00" r="2.65" fill="#000"/>
<text x="46.20" y="228.10" font-size="7.9" text-anchor="start" textLength="46.1" lengthAdjust="spacingAndGlyphs">Carrier (n=15)</text>
<circle cx="38.90" cy="236.60" r="2.45" fill="#fff" stroke="#000" stroke-width="1.2"/>
<text x="46.20" y="239.40" font-size="7.9" text-anchor="start" textLength="56.9" lengthAdjust="spacingAndGlyphs">SB203580 (n=14)</text>
<text x="36.90" y="250.80" font-size="7.9" text-anchor="start" textLength="56.2" lengthAdjust="spacingAndGlyphs">F=81.1, p&lt;0.0001</text>
<circle cx="29.60" cy="372.50" r="2.5" fill="#000"/>
<circle cx="38.59" cy="372.50" r="2.5" fill="#000"/>
<circle cx="47.58" cy="372.50" r="2.5" fill="#000"/>
<circle cx="56.57" cy="372.50" r="2.5" fill="#000"/>
<circle cx="65.56" cy="372.50" r="2.5" fill="#000"/>
<circle cx="74.55" cy="372.50" r="2.5" fill="#000"/>
<circle cx="83.54" cy="372.50" r="2.5" fill="#000"/>
<circle cx="92.53" cy="372.50" r="2.5" fill="#000"/>
<circle cx="101.52" cy="372.50" r="2.5" fill="#000"/>
<circle cx="110.51" cy="367.51" r="2.5" fill="#000"/>
<circle cx="119.50" cy="352.54" r="2.5" fill="#000"/>
<circle cx="128.49" cy="337.07" r="2.5" fill="#000"/>
<circle cx="137.48" cy="317.61" r="2.5" fill="#000"/>
<circle cx="146.47" cy="277.69" r="2.5" fill="#000"/>
<circle cx="155.46" cy="258.23" r="2.5" fill="#000"/>
<circle cx="164.45" cy="242.76" r="2.5" fill="#000"/>
<circle cx="173.44" cy="227.79" r="2.5" fill="#000"/>
<circle cx="182.43" cy="232.28" r="2.5" fill="#000"/>
<circle cx="191.42" cy="227.79" r="2.5" fill="#000"/>
<circle cx="200.41" cy="227.79" r="2.5" fill="#000"/>
<circle cx="209.40" cy="237.27" r="2.5" fill="#000"/>
<circle cx="218.39" cy="222.80" r="2.5" fill="#000"/>
<circle cx="227.38" cy="237.27" r="2.5" fill="#000"/>
<circle cx="236.37" cy="242.76" r="2.5" fill="#000"/>
<circle cx="245.36" cy="237.27" r="2.5" fill="#000"/>
<circle cx="254.35" cy="247.75" r="2.5" fill="#000"/>
<circle cx="29.60" cy="372.50" r="2.45" fill="#fff" stroke="#000" stroke-width="1.1"/>
<circle cx="38.59" cy="372.50" r="2.45" fill="#fff" stroke="#000" stroke-width="1.1"/>
<circle cx="47.58" cy="372.50" r="2.45" fill="#fff" stroke="#000" stroke-width="1.1"/>
<circle cx="56.57" cy="372.50" r="2.45" fill="#fff" stroke="#000" stroke-width="1.1"/>
<circle cx="65.56" cy="372.50" r="2.45" fill="#fff" stroke="#000" stroke-width="1.1"/>
<circle cx="74.55" cy="372.50" r="2.45" fill="#fff" stroke="#000" stroke-width="1.1"/>
<circle cx="83.54" cy="372.50" r="2.45" fill="#fff" stroke="#000" stroke-width="1.1"/>
<circle cx="92.53" cy="372.50" r="2.45" fill="#fff" stroke="#000" stroke-width="1.1"/>
<circle cx="101.52" cy="372.50" r="2.45" fill="#fff" stroke="#000" stroke-width="1.1"/>
<circle cx="110.51" cy="372.50" r="2.45" fill="#fff" stroke="#000" stroke-width="1.1"/>
<circle cx="119.50" cy="364.52" r="2.45" fill="#fff" stroke="#000" stroke-width="1.1"/>
<circle cx="128.49" cy="357.53" r="2.45" fill="#fff" stroke="#000" stroke-width="1.1"/>
<circle cx="137.48" cy="336.57" r="2.45" fill="#fff" stroke="#000" stroke-width="1.1"/>
<circle cx="146.47" cy="325.59" r="2.45" fill="#fff" stroke="#000" stroke-width="1.1"/>
<circle cx="155.46" cy="311.62" r="2.45" fill="#fff" stroke="#000" stroke-width="1.1"/>
<circle cx="164.45" cy="299.15" r="2.45" fill="#fff" stroke="#000" stroke-width="1.1"/>
<circle cx="173.44" cy="286.67" r="2.45" fill="#fff" stroke="#000" stroke-width="1.1"/>
<circle cx="182.43" cy="290.17" r="2.45" fill="#fff" stroke="#000" stroke-width="1.1"/>
<circle cx="191.42" cy="290.17" r="2.45" fill="#fff" stroke="#000" stroke-width="1.1"/>
<circle cx="200.41" cy="300.64" r="2.45" fill="#fff" stroke="#000" stroke-width="1.1"/>
<circle cx="209.40" cy="308.13" r="2.45" fill="#fff" stroke="#000" stroke-width="1.1"/>
<circle cx="218.39" cy="304.64" r="2.45" fill="#fff" stroke="#000" stroke-width="1.1"/>
<circle cx="227.38" cy="319.11" r="2.45" fill="#fff" stroke="#000" stroke-width="1.1"/>
<circle cx="236.37" cy="315.61" r="2.45" fill="#fff" stroke="#000" stroke-width="1.1"/>
<circle cx="245.36" cy="311.62" r="2.45" fill="#fff" stroke="#000" stroke-width="1.1"/>
<circle cx="254.35" cy="308.13" r="2.45" fill="#fff" stroke="#000" stroke-width="1.1"/>
<polyline points="29.60,372.50 30.50,372.50 31.40,372.50 32.30,372.49 33.20,372.49 34.09,372.49 34.99,372.49 35.89,372.49 36.79,372.49 37.69,372.49 38.59,372.49 39.49,372.49 40.39,372.49 41.29,372.49 42.19,372.49 43.09,372.49 43.98,372.48 44.88,372.48 45.78,372.48 46.68,372.48 47.58,372.48 48.48,372.48 49.38,372.47 50.28,372.47 51.18,372.47 52.08,372.46 52.97,372.46 53.87,372.46 54.77,372.45 55.67,372.45 56.57,372.45 57.47,372.44 58.37,372.44 59.27,372.43 60.17,372.42 61.06,372.42 61.96,372.41 62.86,372.40 63.76,372.39 64.66,372.38 65.56,372.37 66.46,372.36 67.36,372.35 68.26,372.34 69.16,372.32 70.06,372.31 70.95,372.29 71.85,372.27 72.75,372.25 73.65,372.23 74.55,372.20 75.45,372.18 76.35,372.15 77.25,372.12 78.15,372.08 79.05,372.04 79.94,372.00 80.84,371.96 81.74,371.91 82.64,371.86 83.54,371.80 84.44,371.74 85.34,371.67 86.24,371.60 87.14,371.52 88.03,371.43 88.93,371.34 89.83,371.24 90.73,371.13 91.63,371.01 92.53,370.87 93.43,370.73 94.33,370.57 95.23,370.40 96.13,370.22 97.03,370.02 97.92,369.80 98.82,369.57 99.72,369.31 100.62,369.04 101.52,368.74 102.42,368.41 103.32,368.06 104.22,367.67 105.12,367.26 106.02,366.81 106.91,366.33 107.81,365.80 108.71,365.23 109.61,364.62 110.51,363.96 111.41,363.25 112.31,362.49 113.21,361.66 114.11,360.78 115.00,359.83 115.90,358.81 116.80,357.72 117.70,356.55 118.60,355.30 119.50,353.97 120.40,352.55 121.30,351.05 122.20,349.45 123.10,347.76 124.00,345.98 124.89,344.09 125.79,342.11 126.69,340.03 127.59,337.86 128.49,335.59 129.39,333.23 130.29,330.78 131.19,328.24 132.09,325.62 132.99,322.93 133.88,320.17 134.78,317.36 135.68,314.49 136.58,311.58 137.48,308.64 138.38,305.69 139.28,302.72 140.18,299.75 141.08,296.80 141.97,293.86 142.87,290.96 143.77,288.11 144.67,285.30 145.57,282.55 146.47,279.88 147.37,277.28 148.27,274.76 149.17,272.32 150.07,269.98 150.97,267.73 151.86,265.57 152.76,263.51 153.66,261.55 154.56,259.69 155.46,257.92 156.36,256.25 157.26,254.67 158.16,253.18 159.06,251.79 159.95,250.47 160.85,249.24 161.75,248.09 162.65,247.01 163.55,246.01 164.45,245.07 165.35,244.20 166.25,243.38 167.15,242.63 168.05,241.93 168.94,241.28 169.84,240.68 170.74,240.12 171.64,239.60 172.54,239.13 173.44,238.68 174.34,238.28 175.24,237.90 176.14,237.55 177.04,237.23 177.94,236.94 178.83,236.66 179.73,236.41 180.63,236.18 181.53,235.97 182.43,235.77 183.33,235.59 184.23,235.42 185.13,235.27 186.03,235.13 186.93,235.00 187.82,234.88 188.72,234.77 189.62,234.67 190.52,234.58 191.42,234.49 192.32,234.41 193.22,234.34 194.12,234.27 195.02,234.21 195.91,234.16 196.81,234.11 197.71,234.06 198.61,234.02 199.51,233.98 200.41,233.94 201.31,233.91 202.21,233.88 203.11,233.85 204.01,233.82 204.91,233.80 205.80,233.77 206.70,233.75 207.60,233.74 208.50,233.72 209.40,233.70 210.30,233.69 211.20,233.68 212.10,233.66 213.00,233.65 213.90,233.64 214.79,233.63 215.69,233.62 216.59,233.62 217.49,233.61 218.39,233.60 219.29,233.60 220.19,233.59 221.09,233.59 221.99,233.58 222.88,233.58 223.78,233.57 224.68,233.57 225.58,233.57 226.48,233.56 227.38,233.56 228.28,233.56 229.18,233.56 230.08,233.55 230.98,233.55 231.88,233.55 232.77,233.55 233.67,233.55 234.57,233.54 235.47,233.54 236.37,233.54 237.27,233.54 238.17,233.54 239.07,233.54 239.97,233.54 240.87,233.54 241.76,233.54 242.66,233.54 243.56,233.54 244.46,233.53 245.36,233.53 246.26,233.53 247.16,233.53 248.06,233.53 248.96,233.53 249.85,233.53 250.75,233.53 251.65,233.53 252.55,233.53 253.45,233.53 254.35,233.53" fill="none" stroke="#000" stroke-width="1.2" stroke-linejoin="round"/>
<polyline points="29.60,372.50 30.50,372.50 31.40,372.50 32.30,372.50 33.20,372.50 34.09,372.50 34.99,372.50 35.89,372.50 36.79,372.50 37.69,372.50 38.59,372.50 39.49,372.50 40.39,372.50 41.29,372.50 42.19,372.50 43.09,372.50 43.98,372.50 44.88,372.50 45.78,372.50 46.68,372.50 47.58,372.50 48.48,372.50 49.38,372.50 50.28,372.50 51.18,372.50 52.08,372.50 52.97,372.50 53.87,372.50 54.77,372.50 55.67,372.50 56.57,372.50 57.47,372.50 58.37,372.50 59.27,372.50 60.17,372.50 61.06,372.50 61.96,372.50 62.86,372.50 63.76,372.50 64.66,372.50 65.56,372.50 66.46,372.50 67.36,372.49 68.26,372.49 69.16,372.49 70.06,372.49 70.95,372.49 71.85,372.49 72.75,372.49 73.65,372.49 74.55,372.49 75.45,372.48 76.35,372.48 77.25,372.48 78.15,372.48 79.05,372.47 79.94,372.47 80.84,372.47 81.74,372.46 82.64,372.46 83.54,372.45 84.44,372.44 85.34,372.44 86.24,372.43 87.14,372.42 88.03,372.41 88.93,372.40 89.83,372.38 90.73,372.37 91.63,372.35 92.53,372.33 93.43,372.31 94.33,372.29 95.23,372.26 96.13,372.23 97.03,372.20 97.92,372.16 98.82,372.12 99.72,372.07 100.62,372.01 101.52,371.95 102.42,371.88 103.32,371.80 104.22,371.71 105.12,371.61 106.02,371.50 106.91,371.37 107.81,371.23 108.71,371.07 109.61,370.89 110.51,370.69 111.41,370.46 112.31,370.21 113.21,369.92 114.11,369.61 115.00,369.25 115.90,368.86 116.80,368.42 117.70,367.92 118.60,367.38 119.50,366.78 120.40,366.11 121.30,365.37 122.20,364.56 123.10,363.67 124.00,362.70 124.89,361.63 125.79,360.48 126.69,359.23 127.59,357.89 128.49,356.44 129.39,354.90 130.29,353.27 131.19,351.55 132.09,349.74 132.99,347.86 133.88,345.91 134.78,343.90 135.68,341.85 136.58,339.78 137.48,337.69 138.38,335.60 139.28,333.52 140.18,331.48 141.08,329.49 141.97,327.55 142.87,325.68 143.77,323.89 144.67,322.18 145.57,320.57 146.47,319.05 147.37,317.63 148.27,316.30 149.17,315.07 150.07,313.93 150.97,312.89 151.86,311.93 152.76,311.06 153.66,310.26 154.56,309.54 155.46,308.89 156.36,308.29 157.26,307.76 158.16,307.28 159.06,306.85 159.95,306.46 160.85,306.12 161.75,305.81 162.65,305.53 163.55,305.28 164.45,305.06 165.35,304.86 166.25,304.69 167.15,304.53 168.05,304.39 168.94,304.27 169.84,304.16 170.74,304.06 171.64,303.97 172.54,303.90 173.44,303.83 174.34,303.77 175.24,303.71 176.14,303.66 177.04,303.62 177.94,303.58 178.83,303.55 179.73,303.52 180.63,303.49 181.53,303.47 182.43,303.45 183.33,303.43 184.23,303.42 185.13,303.40 186.03,303.39 186.93,303.38 187.82,303.37 188.72,303.36 189.62,303.35 190.52,303.34 191.42,303.34 192.32,303.33 193.22,303.33 194.12,303.32 195.02,303.32 195.91,303.32 196.81,303.31 197.71,303.31 198.61,303.31 199.51,303.30 200.41,303.30 201.31,303.30 202.21,303.30 203.11,303.30 204.01,303.30 204.91,303.30 205.80,303.30 206.70,303.29 207.60,303.29 208.50,303.29 209.40,303.29 210.30,303.29 211.20,303.29 212.10,303.29 213.00,303.29 213.90,303.29 214.79,303.29 215.69,303.29 216.59,303.29 217.49,303.29 218.39,303.29 219.29,303.29 220.19,303.29 221.09,303.29 221.99,303.29 222.88,303.29 223.78,303.29 224.68,303.29 225.58,303.29 226.48,303.29 227.38,303.29 228.28,303.29 229.18,303.29 230.08,303.29 230.98,303.29 231.88,303.29 232.77,303.29 233.67,303.29 234.57,303.29 235.47,303.29 236.37,303.29 237.27,303.29 238.17,303.29 239.07,303.29 239.97,303.29 240.87,303.29 241.76,303.29 242.66,303.29 243.56,303.29 244.46,303.29 245.36,303.29 246.26,303.29 247.16,303.29 248.06,303.29 248.96,303.29 249.85,303.29 250.75,303.29 251.65,303.29 252.55,303.29 253.45,303.29 254.35,303.29" fill="none" stroke="#000" stroke-width="1.2" stroke-linejoin="round"/>
<line x1="29.55" y1="222.20" x2="29.55" y2="373.10" stroke="#1a1a1a" stroke-width="1.2"/>
<line x1="26.25" y1="372.50" x2="29.55" y2="372.50" stroke="#111" stroke-width="1.2"/>
<line x1="26.25" y1="322.60" x2="29.55" y2="322.60" stroke="#111" stroke-width="1.2"/>
<line x1="26.25" y1="272.70" x2="29.55" y2="272.70" stroke="#111" stroke-width="1.2"/>
<line x1="26.25" y1="222.80" x2="29.55" y2="222.80" stroke="#111" stroke-width="1.2"/>
<line x1="29.55" y1="372.50" x2="254.35" y2="372.50" stroke="#000" stroke-width="1.1"/>
<line x1="29.60" y1="372.50" x2="29.60" y2="375.80" stroke="#000" stroke-width="1.2"/>
<line x1="74.55" y1="372.50" x2="74.55" y2="375.80" stroke="#000" stroke-width="1.2"/>
<line x1="119.50" y1="372.50" x2="119.50" y2="375.80" stroke="#000" stroke-width="1.2"/>
<line x1="164.45" y1="372.50" x2="164.45" y2="375.80" stroke="#000" stroke-width="1.2"/>
<line x1="209.40" y1="372.50" x2="209.40" y2="375.80" stroke="#000" stroke-width="1.2"/>
<line x1="254.35" y1="372.50" x2="254.35" y2="375.80" stroke="#000" stroke-width="1.2"/>
<text x="272.1" y="216.9" style="font-family:'Liberation Sans',sans-serif;font-weight:bold;stroke-width:0.1px" font-size="10.8">D</text>
<line x1="295.70" y1="222.80" x2="295.70" y2="373.10" stroke="#111" stroke-width="1.4"/>
<line x1="291.30" y1="372.50" x2="295.70" y2="372.50" stroke="#111" stroke-width="1.2"/>
<text x="285.00" y="372.90" font-size="7.2" text-anchor="middle" style="fill:#333;stroke:#333;stroke-width:0.1px">0</text>
<line x1="291.30" y1="335.20" x2="295.70" y2="335.20" stroke="#111" stroke-width="1.2"/>
<text x="285.00" y="338.30" font-size="7.2" text-anchor="middle" style="fill:#333;stroke:#333;stroke-width:0.1px">1</text>
<line x1="291.30" y1="297.90" x2="295.70" y2="297.90" stroke="#111" stroke-width="1.2"/>
<text x="285.00" y="301.00" font-size="7.2" text-anchor="middle" style="fill:#333;stroke:#333;stroke-width:0.1px">2</text>
<line x1="291.30" y1="260.60" x2="295.70" y2="260.60" stroke="#111" stroke-width="1.2"/>
<text x="285.00" y="263.70" font-size="7.2" text-anchor="middle" style="fill:#333;stroke:#333;stroke-width:0.1px">3</text>
<line x1="291.30" y1="223.30" x2="295.70" y2="223.30" stroke="#111" stroke-width="1.2"/>
<text x="285.00" y="227.20" font-size="7.2" text-anchor="middle" style="fill:#333;stroke:#333;stroke-width:0.1px">4</text>
<line x1="295.70" y1="372.50" x2="520.00" y2="372.50" stroke="#000" stroke-width="1.3"/>
<line x1="295.60" y1="372.50" x2="295.60" y2="377.40" stroke="#000" stroke-width="1.2"/>
<text x="298.60" y="390.80" font-size="7.9" text-anchor="middle">10</text>
<line x1="340.30" y1="372.50" x2="340.30" y2="377.40" stroke="#000" stroke-width="1.2"/>
<text x="341.30" y="390.80" font-size="7.9" text-anchor="middle">15</text>
<line x1="385.00" y1="372.50" x2="385.00" y2="377.40" stroke="#000" stroke-width="1.2"/>
<text x="386.90" y="390.80" font-size="7.9" text-anchor="middle">20</text>
<line x1="429.70" y1="372.50" x2="429.70" y2="377.40" stroke="#000" stroke-width="1.2"/>
<text x="431.20" y="390.80" font-size="7.9" text-anchor="middle">25</text>
<line x1="474.40" y1="372.50" x2="474.40" y2="377.40" stroke="#000" stroke-width="1.2"/>
<text x="473.80" y="390.80" font-size="7.9" text-anchor="middle">30</text>
<text x="514.40" y="390.80" font-size="7.9" text-anchor="middle">35</text>
<text x="371.90" y="402.00" font-size="7.9" text-anchor="start" textLength="74.3" lengthAdjust="spacingAndGlyphs">Day post-immunization</text>
<text transform="translate(275.00,295.10) rotate(-90)" x="0" y="0" font-size="7.9" text-anchor="middle" textLength="62.2" lengthAdjust="spacingAndGlyphs" style="fill:#333;stroke:#333;stroke-width:0.05px">Mean clinical score</text>
<circle cx="302.80" cy="227.40" r="2.65" fill="#000"/>
<text x="311.90" y="230.30" font-size="7.9" text-anchor="start" textLength="46.1" lengthAdjust="spacingAndGlyphs">Carrier (n=15)</text>
<circle cx="302.80" cy="239.00" r="2.45" fill="#fff" stroke="#000" stroke-width="1.2"/>
<text x="311.90" y="242.10" font-size="7.9" text-anchor="start" textLength="57.6" lengthAdjust="spacingAndGlyphs">SB203580 (n=14)</text>
<circle cx="295.60" cy="372.50" r="3.7" fill="#000"/>
<circle cx="304.54" cy="372.50" r="3.7" fill="#000"/>
<circle cx="313.48" cy="372.50" r="3.7" fill="#000"/>
<circle cx="322.42" cy="372.50" r="3.7" fill="#000"/>
<circle cx="340.30" cy="297.90" r="3.7" fill="#000"/>
<circle cx="349.24" cy="272.91" r="3.7" fill="#000"/>
<circle cx="358.18" cy="310.21" r="3.7" fill="#000"/>
<circle cx="367.12" cy="310.21" r="3.7" fill="#000"/>
<circle cx="376.06" cy="372.50" r="3.7" fill="#000"/>
<circle cx="385.00" cy="372.50" r="3.7" fill="#000"/>
<circle cx="393.94" cy="372.50" r="3.7" fill="#000"/>
<circle cx="402.88" cy="372.50" r="3.7" fill="#000"/>
<circle cx="411.82" cy="372.50" r="3.7" fill="#000"/>
<circle cx="420.76" cy="372.50" r="3.7" fill="#000"/>
<circle cx="429.70" cy="372.50" r="3.7" fill="#000"/>
<circle cx="438.64" cy="297.90" r="3.7" fill="#000"/>
<circle cx="447.58" cy="272.91" r="3.7" fill="#000"/>
<circle cx="456.52" cy="260.60" r="3.7" fill="#000"/>
<circle cx="465.46" cy="272.91" r="3.7" fill="#000"/>
<circle cx="474.40" cy="322.89" r="3.7" fill="#000"/>
<circle cx="483.34" cy="372.50" r="3.7" fill="#000"/>
<circle cx="492.28" cy="372.50" r="3.7" fill="#000"/>
<circle cx="501.22" cy="372.50" r="3.7" fill="#000"/>
<circle cx="510.16" cy="372.50" r="3.7" fill="#000"/>
<circle cx="295.60" cy="372.50" r="2.5" fill="none" stroke="#000" stroke-width="1.35"/>
<circle cx="304.54" cy="372.50" r="2.5" fill="none" stroke="#000" stroke-width="1.35"/>
<circle cx="313.48" cy="372.50" r="2.5" fill="none" stroke="#000" stroke-width="1.35"/>
<circle cx="322.42" cy="372.50" r="2.5" fill="none" stroke="#000" stroke-width="1.35"/>
<circle cx="331.36" cy="372.50" r="2.5" fill="none" stroke="#000" stroke-width="1.35"/>
<circle cx="340.30" cy="297.90" r="2.5" fill="none" stroke="#000" stroke-width="1.35"/>
<circle cx="349.24" cy="288.57" r="2.5" fill="none" stroke="#000" stroke-width="1.35"/>
<circle cx="358.18" cy="306.85" r="2.5" fill="none" stroke="#000" stroke-width="1.35"/>
<circle cx="367.12" cy="353.48" r="2.5" fill="none" stroke="#000" stroke-width="1.35"/>
<circle cx="376.06" cy="363.55" r="2.5" fill="none" stroke="#000" stroke-width="1.35"/>
<circle cx="385.00" cy="372.50" r="2.5" fill="none" stroke="#000" stroke-width="1.35"/>
<circle cx="393.94" cy="372.50" r="2.5" fill="none" stroke="#000" stroke-width="1.35"/>
<circle cx="402.88" cy="372.50" r="2.5" fill="none" stroke="#000" stroke-width="1.35"/>
<circle cx="411.82" cy="372.50" r="2.5" fill="none" stroke="#000" stroke-width="1.35"/>
<circle cx="420.76" cy="372.50" r="2.5" fill="none" stroke="#000" stroke-width="1.35"/>
<circle cx="429.70" cy="372.50" r="2.5" fill="none" stroke="#000" stroke-width="1.35"/>
<circle cx="438.64" cy="354.22" r="2.5" fill="none" stroke="#000" stroke-width="1.35"/>
<circle cx="447.58" cy="354.22" r="2.5" fill="none" stroke="#000" stroke-width="1.35"/>
<circle cx="456.52" cy="354.22" r="2.5" fill="none" stroke="#000" stroke-width="1.35"/>
<circle cx="465.46" cy="354.22" r="2.5" fill="none" stroke="#000" stroke-width="1.35"/>
<circle cx="474.40" cy="363.18" r="2.5" fill="none" stroke="#000" stroke-width="1.35"/>
<circle cx="483.34" cy="372.50" r="2.5" fill="none" stroke="#000" stroke-width="1.35"/>
<circle cx="492.28" cy="372.50" r="2.5" fill="none" stroke="#000" stroke-width="1.35"/>
<circle cx="501.22" cy="372.50" r="2.5" fill="none" stroke="#000" stroke-width="1.35"/>
<circle cx="510.16" cy="372.50" r="2.5" fill="none" stroke="#000" stroke-width="1.35"/>
<polyline points="295.60,372.50 304.54,372.50 313.48,372.50 322.42,372.50 331.36,372.50 340.30,297.90 349.24,288.57 358.18,306.85 367.12,353.48 376.06,363.55 385.00,372.50 393.94,372.50 402.88,372.50 411.82,372.50 420.76,372.50 429.70,372.50 438.64,354.22 447.58,354.22 456.52,354.22 465.46,354.22 474.40,363.18 483.34,372.50 492.28,372.50 501.22,372.50 510.16,372.50" fill="none" stroke="#000" stroke-width="1.3" stroke-linejoin="round"/>
<polyline points="295.60,372.50 304.54,372.50 313.48,372.50 322.42,372.50 331.36,372.50 340.30,297.90 349.24,272.91 358.18,310.21 367.12,310.21 376.06,372.50 385.00,372.50 393.94,372.50 402.88,372.50 411.82,372.50 420.76,372.50 429.70,372.50 438.64,297.90 447.58,272.91 456.52,260.60 465.46,272.91 474.40,322.89 483.34,372.50 492.28,372.50 501.22,372.50 510.16,372.50" fill="none" stroke="#000" stroke-width="1.3" stroke-linejoin="round"/>
<line x1="403.00" y1="331.00" x2="403.00" y2="351.30" stroke="#000" stroke-width="2.0"/>
<path d="M399.80,350.30 L406.20,350.30 L403.00,358.30 Z" fill="#000"/>
<text x="437.40" y="292.20" font-size="7.5" text-anchor="middle" font-weight="bold">*</text>
<text x="446.00" y="267.90" font-size="7.5" text-anchor="middle" font-weight="bold">**</text>
<text x="456.70" y="254.50" font-size="7.5" text-anchor="middle" font-weight="bold">**</text>
<text x="467.70" y="268.80" font-size="7.5" text-anchor="middle" font-weight="bold">**</text>
</svg>
</body></html>
